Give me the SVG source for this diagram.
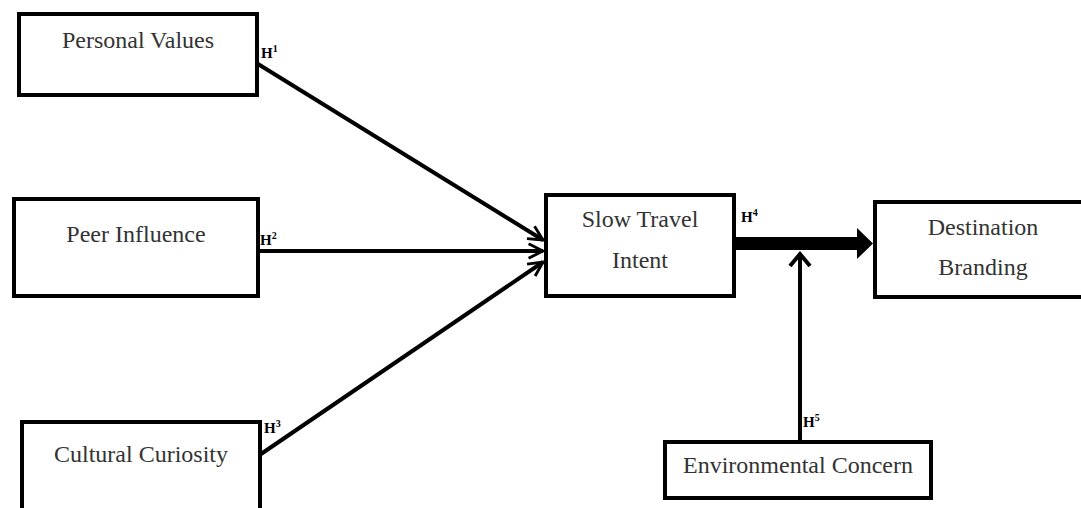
<svg xmlns="http://www.w3.org/2000/svg" width="1081" height="508" viewBox="0 0 1081 508">
<style>
.box{fill:#fff;stroke:#000;stroke-width:4}
.lbl{font-family:"Liberation Serif","Times New Roman",serif;font-size:24px;fill:#333;text-anchor:middle}
.h{font-family:"Liberation Serif","Times New Roman",serif;font-size:15px;font-weight:bold;fill:#000}
.h tspan{font-size:10px}
.ln{stroke:#000;stroke-width:4;fill:none}
</style>
<defs>
<marker id="open" viewBox="0 0 10 10" refX="9" refY="5" markerWidth="4.5" markerHeight="4.5" orient="auto" markerUnits="strokeWidth">
<path d="M1,1 L9,5 L1,9" fill="none" stroke="#000" stroke-width="1.6"/>
</marker>
</defs>
<rect width="1081" height="508" fill="#fff"/>
<g id="connectors">
<line class="ln" x1="258" y1="64" x2="543" y2="240" marker-end="url(#open)"/>
<line class="ln" x1="259" y1="251" x2="543" y2="251" marker-end="url(#open)"/>
<line class="ln" x1="261" y1="454" x2="543" y2="262" marker-end="url(#open)"/>
<rect x="735" y="237" width="124" height="13" fill="#000"/>
<polygon points="857,228 873,243.5 857,259" fill="#000"/>
<line class="ln" x1="800" y1="441" x2="800" y2="255"/>
<path class="ln" d="M790,266 L800,254 L810,266"/>
<text class="h" x="261" y="58">H<tspan dy="-6">1</tspan></text>
<text class="h" x="260" y="245">H<tspan dy="-6">2</tspan></text>
<text class="h" x="264" y="433">H<tspan dy="-6">3</tspan></text>
<text class="h" x="741" y="222">H<tspan dy="-6">4</tspan></text>
<text class="h" x="803" y="427">H<tspan dy="-6">5</tspan></text>
</g>
<g id="personal-values">
<rect class="box" x="19" y="14" width="238" height="81"/>
<text class="lbl" x="138" y="48">Personal Values</text>
</g>
<g id="peer-influence">
<rect class="box" x="14" y="199" width="244" height="97"/>
<text class="lbl" x="136" y="242">Peer Influence</text>
</g>
<g id="cultural-curiosity">
<rect class="box" x="22" y="422" width="238" height="110"/>
<text class="lbl" x="141" y="462">Cultural Curiosity</text>
</g>
<g id="slow-travel-intent">
<rect class="box" x="546" y="195" width="188" height="101"/>
<text class="lbl" x="640" y="227">Slow Travel</text>
<text class="lbl" x="640" y="268">Intent</text>
</g>
<g id="destination-branding">
<rect class="box" x="875" y="202" width="230" height="95"/>
<text class="lbl" x="983" y="235">Destination</text>
<text class="lbl" x="983" y="275">Branding</text>
</g>
<g id="environmental-concern">
<rect class="box" x="665" y="442" width="266" height="56"/>
<text class="lbl" x="798" y="473">Environmental Concern</text>
</g>
</svg>
